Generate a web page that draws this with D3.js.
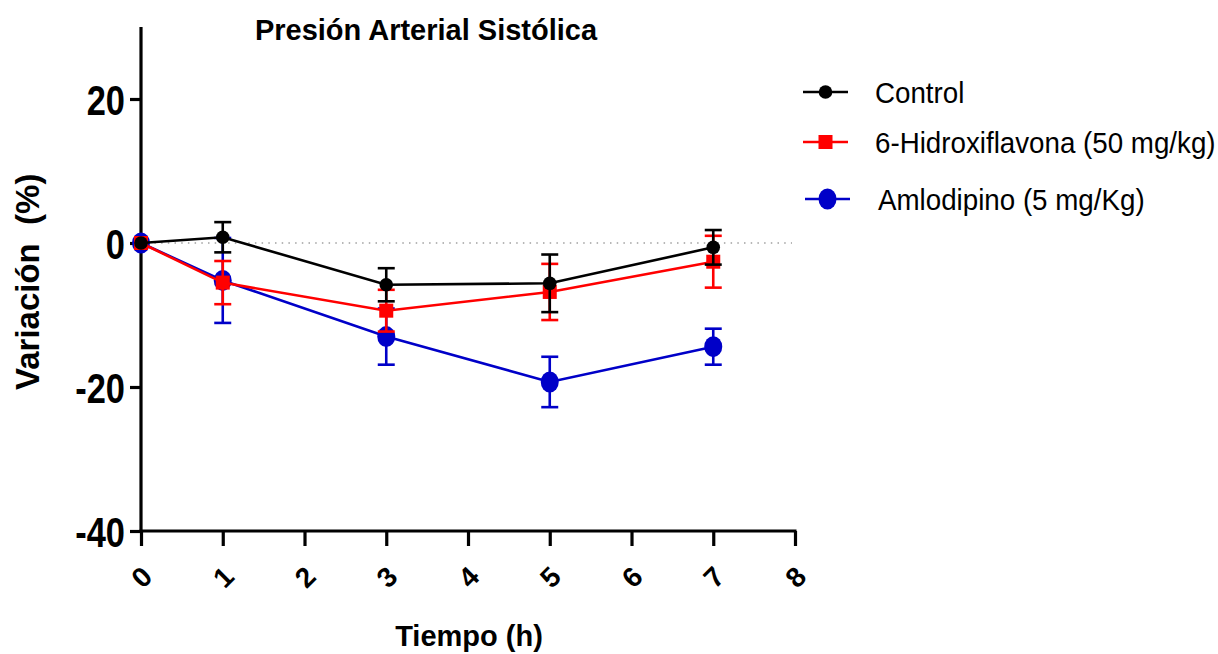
<!DOCTYPE html>
<html>
<head>
<meta charset="utf-8">
<script src="https://cdn.jsdelivr.net/npm/d3@7"></script>
<style>
  body { margin: 0; background: #fff; }
  svg { display: block; font-family: "Liberation Sans", Arial, sans-serif; }
</style>
</head>
<body>
<svg id="chart" width="1218" height="654"></svg>
<script>
const HOURS = [0, 1, 3, 5, 7];
const SERIES_NAMES = ["Control", "6-Hidroxiflavona (50 mg/kg)", "Amlodipino (5 mg/Kg)"];
const CONTROL_MEAN = [0, 0.8, -5.8, -5.6, -0.6];
const CONTROL_ERR = [0, 2.1, 2.3, 4.0, 2.4];
const HIDROXI_MEAN = [0, -5.5, -9.4, -6.8, -2.6];
const HIDROXI_ERR = [0, 3.0, 2.9, 3.9, 3.6];
const AMLO_MEAN = [0, -5.2, -13.0, -19.3, -14.4];
const AMLO_ERR = [0, 5.9, 3.9, 3.5, 2.5];
const X_TICKS = [0, 1, 2, 3, 4, 5, 6, 7, 8];
const Y_TICKS = [-40, -20, 0, 20];

// no narrow font installed, so condense with a horizontal scale
const NARROW = 0.82;

const svg = d3.select("#chart");

const x = d3.scaleLinear().domain([0, 8]).range([141, 795]);
const y = d3.scaleLinear().domain([-40, 30]).range([531, 27]);

const series = [
  { name: SERIES_NAMES[2], mean: AMLO_MEAN, err: AMLO_ERR, color: "#0000c8", shape: "bigcircle" },
  { name: SERIES_NAMES[1], mean: HIDROXI_MEAN, err: HIDROXI_ERR, color: "#ff0000", shape: "square" },
  { name: SERIES_NAMES[0], mean: CONTROL_MEAN, err: CONTROL_ERR, color: "#000000", shape: "circle" },
];

// zero reference line
svg.append("line")
  .attr("x1", x(0)).attr("x2", x(8) - 3)
  .attr("y1", y(0)).attr("y2", y(0))
  .attr("stroke", "#a0a0a0")
  .attr("stroke-width", 1.5)
  .attr("stroke-dasharray", "1.5,5.2");

// axes
const yAxis = svg.append("g")
  .attr("transform", `translate(${x(0)},0)`)
  .call(d3.axisLeft(y).tickValues(Y_TICKS).tickFormat((d) => String(d)).tickSize(11).tickSizeOuter(0));
yAxis.select(".domain").attr("stroke-width", 3.2).attr("d", `M0,${y(30)}V${y(-40) + 1.5}`);
yAxis.selectAll(".tick line").attr("stroke-width", 3.2);
yAxis.selectAll(".tick text")
  .attr("x", 0)
  .attr("dy", "0.36em")
  .attr("transform", `translate(-16,0) scale(${NARROW},1)`)
  .style("font-size", "42px")
  .style("font-weight", "bold");

const xAxis = svg.append("g")
  .attr("transform", `translate(0,${y(-40)})`)
  .call(d3.axisBottom(x).tickValues(X_TICKS).tickSize(15).tickSizeOuter(0));
xAxis.select(".domain").attr("stroke-width", 3.2).attr("d", `M${x(0) - 1.5},0H${x(8) + 1.5}`);
xAxis.selectAll(".tick line").attr("stroke-width", 3.2);
xAxis.selectAll(".tick text")
  .style("font-size", "28px")
  .style("font-weight", "bold")
  .attr("y", 0)
  .attr("dy", 0)
  .attr("text-anchor", "middle")
  .attr("transform", "translate(0,46) rotate(-45) translate(0,10)");

svg.selectAll(".domain, .tick line").attr("stroke", "#000");
svg.selectAll(".tick text").attr("fill", "#000");

// series
const line = d3.line().x((d) => x(d[0])).y((d) => y(d[1]));

const drawMarker = (g, shape, color) => {
  if (shape === "circle") {
    g.append("circle").attr("r", 6.8).attr("fill", color);
  } else if (shape === "square") {
    g.append("rect").attr("x", -7).attr("y", -7).attr("width", 14).attr("height", 14).attr("fill", color);
  } else {
    g.append("ellipse").attr("rx", 9).attr("ry", 10.5).attr("fill", color);
  }
};

series.forEach((s) => {
  const pts = HOURS.map((h, i) => [h, s.mean[i], s.err[i]]);
  const g = svg.append("g");
  g.append("path")
    .datum(pts)
    .attr("d", line)
    .attr("fill", "none")
    .attr("stroke", s.color)
    .attr("stroke-width", 2.6);

  const eb = g.selectAll(".err")
    .data(pts.filter((d) => d[2] > 0))
    .join("g")
    .attr("stroke", s.color)
    .attr("stroke-width", 2.6);
  eb.append("line")
    .attr("x1", (d) => x(d[0])).attr("x2", (d) => x(d[0]))
    .attr("y1", (d) => y(d[1] + d[2])).attr("y2", (d) => y(d[1] - d[2]));
  eb.append("line")
    .attr("x1", (d) => x(d[0]) - 8.5).attr("x2", (d) => x(d[0]) + 8.5)
    .attr("y1", (d) => y(d[1] + d[2])).attr("y2", (d) => y(d[1] + d[2]));
  eb.append("line")
    .attr("x1", (d) => x(d[0]) - 8.5).attr("x2", (d) => x(d[0]) + 8.5)
    .attr("y1", (d) => y(d[1] - d[2])).attr("y2", (d) => y(d[1] - d[2]));

  pts.forEach((d) => {
    const m = g.append("g").attr("transform", `translate(${x(d[0])},${y(d[1])})`);
    drawMarker(m, s.shape, s.color);
  });
});

// titles
svg.append("text")
  .attr("x", 426).attr("y", 40)
  .attr("text-anchor", "middle")
  .style("font-size", "29px")
  .style("font-weight", "bold")
  .text("Presión Arterial Sistólica");

svg.append("text")
  .attr("x", 469).attr("y", 646)
  .attr("text-anchor", "middle")
  .style("font-size", "29px")
  .style("font-weight", "bold")
  .text("Tiempo (h)");

svg.append("text")
  .attr("transform", "translate(39,390) rotate(-90)")
  .attr("text-anchor", "start")
  .style("font-size", "33px")
  .style("font-weight", "bold")
  .text("Variación\u00a0 (%)");

// legend
const legendRows = [
  { s: series[2], y: 92, x0: 803 },
  { s: series[1], y: 142, x0: 803 },
  { s: series[0], y: 199, x0: 805 },
];
legendRows.forEach((r) => {
  const g = svg.append("g");
  g.append("line")
    .attr("x1", r.x0).attr("x2", r.x0 + 45)
    .attr("y1", r.y).attr("y2", r.y)
    .attr("stroke", r.s.color).attr("stroke-width", 2.6);
  const m = g.append("g").attr("transform", `translate(${r.x0 + 22.5},${r.y})`);
  drawMarker(m, r.s.shape, r.s.color);
  g.append("text")
    .attr("transform", `translate(${r.s.shape === "bigcircle" ? 878 : 875},${r.y}) scale(0.925,1)`)
    .attr("dy", "0.36em")
    .style("font-size", "30px")
    .text(r.s.name);
});
</script>
</body>
</html>
